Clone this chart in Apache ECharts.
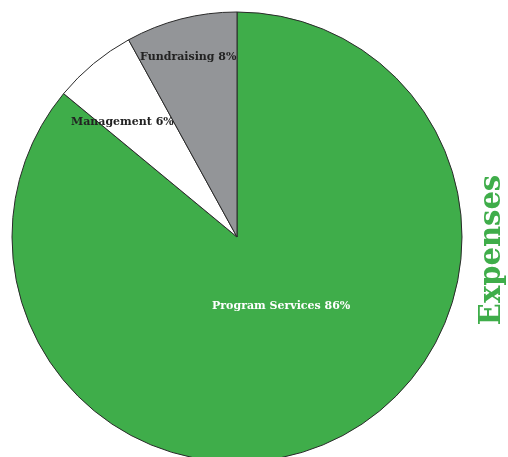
<!DOCTYPE html>
<html><head><meta charset="utf-8">
<script src="https://cdn.jsdelivr.net/npm/echarts@6/dist/echarts.min.js"></script>
<style>html,body{margin:0;padding:0;background:#fff}#c{width:508px;height:457px}</style>
</head><body><div id="c"></div>
<script>
const categories = ['Program Services', 'Management', 'Fundraising'];
const values = [86, 6, 8];
const colors = ['#3fad4a', '#ffffff', '#939598'];
const labelColors = ['#ffffff', '#222222', '#222222'];
const labelOffsets = [[-5, -35], [-41, -26], [-20, -68]];
const chartTitle = 'Expenses';

const chart = echarts.init(document.getElementById('c'));
chart.setOption({
  animation: false,
  series: [{
    type: 'pie',
    center: [237, 237],
    radius: 225,
    startAngle: 90,
    clockwise: true,
    avoidLabelOverlap: false,
    label: {
      position: 'inside',
      formatter: p => p.name + ' ' + p.value + '%',
      fontFamily: 'DejaVu Serif',
      fontSize: 11,
      fontWeight: 'bold'
    },
    labelLine: {show: false},
    itemStyle: {borderColor: '#2a2a2a', borderWidth: 1},
    emphasis: {disabled: true},
    data: categories.map((n, i) => ({
      name: n, value: values[i],
      itemStyle: {color: colors[i]},
      label: {color: labelColors[i], offset: labelOffsets[i]}
    }))
  }],
  graphic: [{
    type: 'text',
    x: 492, y: 250,
    rotation: Math.PI / 2,
    style: {
      text: chartTitle,
      fill: '#3fad4a',
      font: 'bold 29px "DejaVu Serif"',
      align: 'center',
      verticalAlign: 'middle'
    }
  }]
});
</script></body></html>
